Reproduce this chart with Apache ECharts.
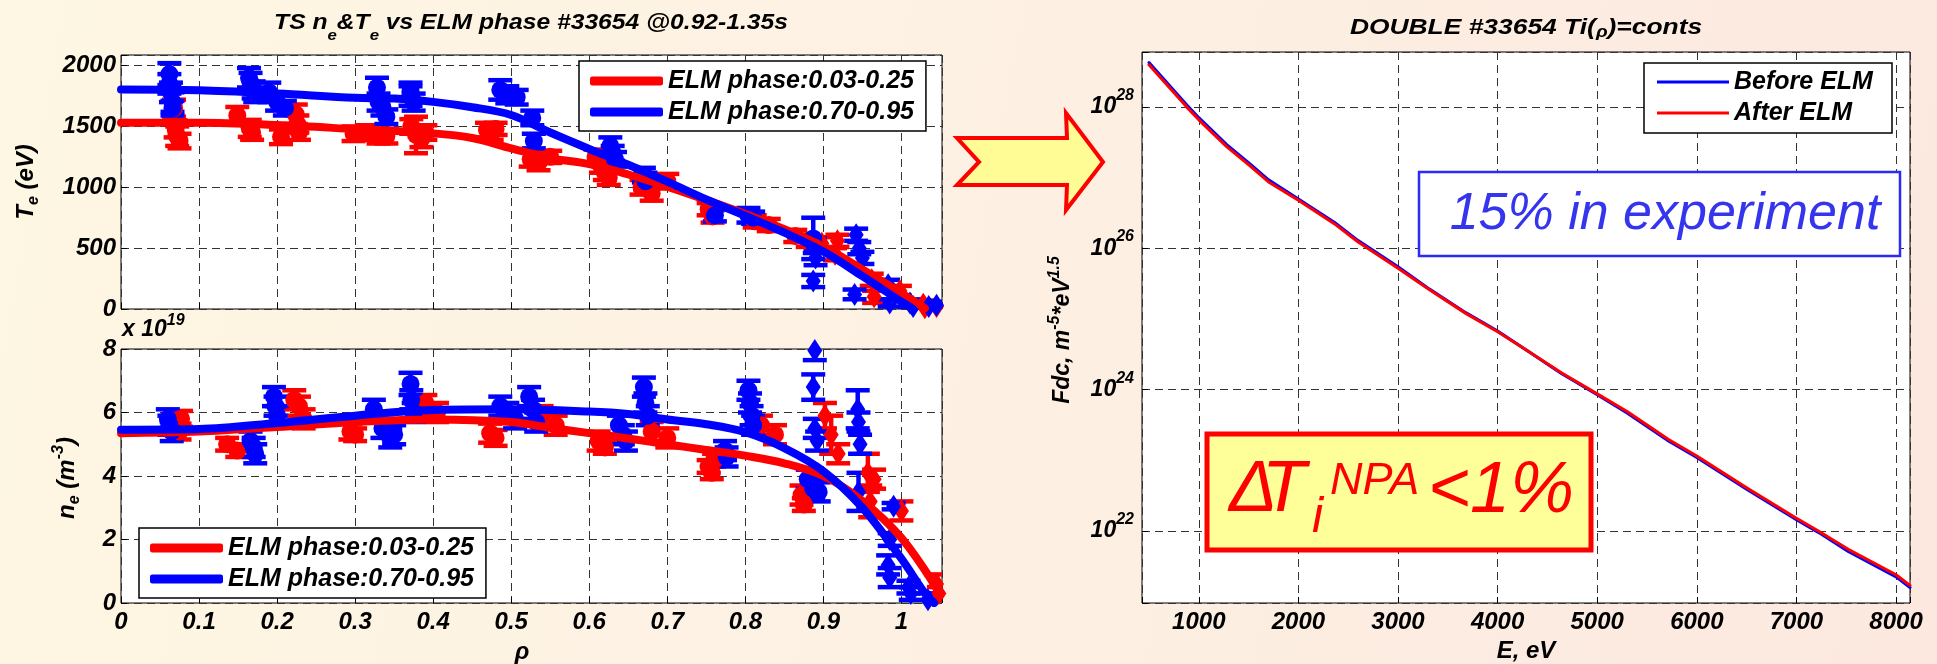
<!DOCTYPE html>
<html><head><meta charset="utf-8">
<script src="https://cdn.jsdelivr.net/npm/echarts@6/dist/echarts.min.js"></script>
<style>
html,body{margin:0;padding:0;}
#c{width:1937px;height:664px;background:linear-gradient(100deg,#FEF7E3 0%,#FDF1E3 45%,#FCE8DF 100%);}
</style></head><body><div id="c"></div>
<script>
// ---------------- DATA ----------------
// Te (eV) vs rho : [rho, Te, error]
const teRedCore = [[0.068,1650,70],[0.070,1480,70],[0.072,1420,80],[0.075,1380,60],[0.149,1590,70],[0.165,1484,70],[0.168,1450,60],[0.205,1415,60],[0.224,1600,80],[0.226,1520,70],[0.228,1450,60],[0.298,1440,60],[0.315,1450,60],[0.330,1420,60],[0.340,1420,60],[0.372,1500,60],[0.378,1430,150],[0.385,1400,70],[0.390,1450,60],[0.469,1470,60],[0.475,1450,60],[0.480,1480,50],[0.525,1230,60],[0.535,1200,60],[0.550,1250,50],[0.608,1250,60],[0.615,1180,60],[0.620,1120,60],[0.625,1080,60],[0.667,1000,60],[0.680,950,60],[0.700,1050,60],[0.753,820,50],[0.758,760,50],[0.812,720,50],[0.830,690,50],[0.864,600,50],[0.880,560,50]];
const teRedEdge = [[0.898,540,50],[0.915,450,50],[0.918,560,50],[0.962,240,50],[0.965,100,50],[0.998,150,40],[1.028,40,30],[1.030,10,30],[1.045,20,30]];
const teBlueCore = [[0.062,1930,90],[0.062,1850,80],[0.064,1780,80],[0.066,1700,80],[0.066,1650,60],[0.164,1900,80],[0.166,1860,80],[0.170,1800,70],[0.172,1760,60],[0.190,1780,80],[0.200,1700,70],[0.210,1650,60],[0.328,1820,80],[0.330,1700,70],[0.335,1660,70],[0.340,1580,60],[0.371,1790,70],[0.371,1750,80],[0.375,1700,70],[0.486,1800,80],[0.495,1760,70],[0.507,1740,60],[0.527,1570,60],[0.529,1380,60],[0.627,1340,70],[0.630,1280,60],[0.633,1230,60],[0.670,1100,60],[0.672,1050,70],[0.761,770,50],[0.804,770,60],[0.810,750,50],[0.887,580,170],[0.889,520,60]];
const teBlueEdge = [[0.890,420,60],[0.887,230,50],[0.942,610,50],[0.946,500,50],[0.950,420,50],[0.940,120,40],[0.983,200,40],[0.985,50,30],[1.011,49,30],[1.015,20,30],[1.035,20,30],[1.045,30,30]];
// Te fitted profiles
const teRedFitRho = [0,0.1,0.2,0.3,0.4,0.45,0.5,0.55,0.6,0.65,0.7,0.75,0.8,0.85,0.9,0.95,1.0,1.03];
const teRedFit    = [1530,1530,1511,1478,1443,1405,1320,1240,1190,1105,1005,895,780,655,513,326,131,5];
const teBlueFitRho = [0,0.1,0.2,0.3,0.35,0.4,0.45,0.5,0.55,0.6,0.65,0.7,0.75,0.8,0.85,0.9,0.95,1.0,1.015];
const teBlueFit    = [1803,1797,1770,1735,1729,1702,1658,1594,1450,1315,1185,1046,900,766,627,472,270,60,0];

// ne (1e19 m^-3) vs rho : [rho, ne, error]
const neRedCore = [[0.077,5.8,0.25],[0.075,5.4,0.25],[0.136,5.0,0.2],[0.149,4.8,0.2],[0.222,6.4,0.3],[0.228,6.2,0.3],[0.234,5.8,0.3],[0.294,5.4,0.25],[0.300,5.3,0.2],[0.380,6.2,0.3],[0.390,6.3,0.25],[0.405,6.0,0.3],[0.473,5.35,0.3],[0.480,5.2,0.25],[0.539,5.9,0.3],[0.557,5.6,0.3],[0.612,5.1,0.3],[0.620,4.9,0.2],[0.680,5.4,0.3],[0.700,5.2,0.3],[0.753,4.3,0.2],[0.757,4.1,0.2],[0.760,4.5,0.2],[0.820,5.6,0.3],[0.838,5.3,0.3],[0.872,3.4,0.3],[0.875,3.1,0.2]];
const neRedEdge = [[0.902,5.9,0.4],[0.910,5.3,0.6],[0.919,4.7,0.3],[0.957,4.1,0.6],[0.965,3.9,0.3],[0.960,3.2,0.5],[1.000,2.9,0.3],[1.045,0.6,0.3],[1.048,0.3,0.2]];
const neBlueCore = [[0.060,5.8,0.3],[0.062,5.6,0.3],[0.065,5.4,0.3],[0.166,5.1,0.3],[0.170,4.9,0.3],[0.172,4.7,0.3],[0.196,6.5,0.3],[0.198,6.2,0.3],[0.200,5.9,0.3],[0.324,6.1,0.3],[0.335,5.5,0.3],[0.345,5.2,0.3],[0.350,5.3,0.3],[0.371,6.9,0.35],[0.372,6.4,0.3],[0.375,6.0,0.3],[0.486,6.2,0.3],[0.495,6.0,0.3],[0.505,5.8,0.3],[0.523,6.5,0.3],[0.528,6.1,0.3],[0.532,5.7,0.3],[0.638,5.6,0.3],[0.643,5.3,0.3],[0.647,5.1,0.3],[0.670,6.8,0.3],[0.672,6.3,0.3],[0.675,5.9,0.3],[0.774,4.8,0.3],[0.776,4.6,0.3],[0.804,6.7,0.3],[0.806,6.3,0.3],[0.808,5.9,0.3],[0.810,5.6,0.3],[0.880,3.9,0.3],[0.887,3.6,0.3],[0.894,3.5,0.3]];
const neBlueEdge = [[0.889,7.95,0.3],[0.887,6.8,0.4],[0.889,5.5,0.3],[0.892,5.1,0.3],[0.944,6.1,0.6],[0.945,5.7,0.3],[0.947,5.0,0.3],[0.945,3.5,0.6],[0.990,3.05,0.1],[0.985,2.0,0.2],[0.983,1.2,0.3],[0.985,0.8,0.3],[1.009,0.5,0.2],[1.012,0.3,0.2],[1.034,0.1,0.2]];
// ne fitted profiles
const neRedFitRho = [0,0.1,0.2,0.3,0.4,0.5,0.55,0.6,0.65,0.7,0.75,0.8,0.85,0.9,0.95,1.0,1.05];
const neRedFit    = [5.35,5.40,5.54,5.70,5.78,5.70,5.52,5.35,5.18,5.0,4.82,4.64,4.40,4.0,3.22,2.05,0.27];
const neBlueFitRho = [0,0.1,0.2,0.3,0.4,0.5,0.6,0.65,0.7,0.75,0.8,0.85,0.9,0.95,1.0,1.03,1.042];
const neBlueFit    = [5.46,5.48,5.67,5.9,6.08,6.1,6.03,5.95,5.78,5.63,5.38,4.88,4.15,3.0,1.4,0.31,0];

// NPA distribution: energy (eV) and log10(Fdc)
const energyEv = [500,880,1000,1280,1520,1700,2000,2360,2600,3000,3320,3680,4000,4280,4640,5000,5300,5720,6000,6500,7000,7220,7520,8000,8140];
const fdcLogBefore = [28.63,28.03,27.85,27.47,27.19,26.97,26.70,26.37,26.11,25.74,25.42,25.09,24.83,24.57,24.23,23.93,23.67,23.27,23.04,22.59,22.16,21.98,21.71,21.35,21.20];
const fdcLogAfter  = [28.60,28.00,27.82,27.44,27.16,26.94,26.68,26.35,26.09,25.72,25.41,25.08,24.82,24.57,24.24,23.94,23.69,23.29,23.06,22.61,22.18,22.00,21.74,21.38,21.23];

const phaseNames = ['ELM phase:0.03-0.25', 'ELM phase:0.70-0.95'];
const npaNames = ['Before ELM', 'After ELM'];
const rhoTicks = [0,0.1,0.2,0.3,0.4,0.5,0.6,0.7,0.8,0.9,1];

// ---------------- STYLE / BUILD ----------------
const FONT = '"Liberation Sans", Arial, Helvetica, sans-serif';
const RED = '#FF0000', BLUE = '#0000FF';
const lbl = {fontSize:24, fontWeight:'bold', fontStyle:'italic', color:'#000', fontFamily:FONT};
const gridLine = {show:true, lineStyle:{color:'#333', type:[8,5], width:1}};
const tick = {show:true, inside:true, length:6, lineStyle:{color:'#000', width:1}};

function xy(arr){ return arr.map(p => [p[0], p[1]]); }
function pair(xs, ys){ return xs.map((x,i) => [x, ys[i]]); }
function errSeries(arr, color, gi){
  return {type:'custom', xAxisIndex:gi, yAxisIndex:gi, data:arr, clip:true, silent:true,
    encode:{x:0, y:1},
    renderItem:function(params, api){
      const x = api.value(0), y = api.value(1), e = api.value(2);
      const a = api.coord([x, y+e]), b = api.coord([x, y-e]);
      const hw = 12;
      const st = () => ({stroke:color, lineWidth:4.5});
      return {type:'group', children:[
        {type:'line', shape:{x1:a[0],y1:a[1],x2:b[0],y2:b[1]}, style:st()},
        {type:'line', shape:{x1:a[0]-hw,y1:a[1],x2:a[0]+hw,y2:a[1]}, style:st()},
        {type:'line', shape:{x1:b[0]-hw,y1:b[1],x2:b[0]+hw,y2:b[1]}, style:st()}
      ]};
    }};
}
function scat(arr, color, gi, symbol, size){
  return {type:'scatter', xAxisIndex:gi, yAxisIndex:gi, data:xy(arr), symbol:symbol, symbolSize:size,
    itemStyle:{color:color, opacity:1}, silent:true, clip:true};
}
function fit(xs, ys, color, gi, name, width, smooth){
  return {type:'line', name:name, xAxisIndex:gi, yAxisIndex:gi, data:pair(xs, ys), showSymbol:false,
    smooth:smooth, color:color, lineStyle:{color:color, width:width, cap:'round', join:'round'}, itemStyle:{color:color}, silent:true};
}
function isMult(v, step){ return Math.abs(v/step - Math.round(v/step)) < 1e-6; }
function rhoAxis(gi, showLabel){
  return {type:'value', gridIndex:gi, min:0, max:1.052, interval:0.1, axisLine:{show:false}, axisTick:tick, splitLine:gridLine,
    axisLabel: showLabel ? Object.assign({}, lbl, {margin:7, formatter:v => rhoTicks.some(t => Math.abs(t-v)<1e-6) ? String(+v.toFixed(1)) : ''}) : {show:false}};
}
function legendBox(names, left, top, iw, ih, icon, tw, pad){
  return {data:names, orient:'vertical', left:left, top:top, padding:pad, itemGap:5, itemWidth:iw, itemHeight:ih, icon:icon,
    borderColor:'#000', borderWidth:1.5, backgroundColor:'#fff', selectedMode:false,
    textStyle:Object.assign({}, lbl, {fontSize:25, lineHeight:26, width:tw})};
}
const sub = (fs, down) => ({fontSize:fs, fontWeight:'bold', fontStyle:'italic', fontFamily:FONT, padding:[down,0,0,0]});
const sup = (fs, up) => ({fontSize:fs, fontWeight:'bold', fontStyle:'italic', fontFamily:FONT, padding:[0,0,up,0]});

const option = {
  animation:false,
  textStyle:{fontFamily:FONT},
  grid:[
    {left:121, top:55, width:821, height:254, show:true, backgroundColor:'#fff', borderColor:'#000', borderWidth:1},
    {left:121, top:349, width:821, height:254, show:true, backgroundColor:'#fff', borderColor:'#000', borderWidth:1},
    {left:1142, top:52, width:768, height:551, show:true, backgroundColor:'#fff', borderColor:'#000', borderWidth:1}
  ],
  xAxis:[
    rhoAxis(0, false),
    rhoAxis(1, true),
    {type:'value', gridIndex:2, min:430, max:8140, splitNumber:8, minInterval:1000, maxInterval:1000, axisLine:{show:false}, axisTick:tick, splitLine:gridLine,
      axisLabel:Object.assign({}, lbl, {margin:7, formatter:v => isMult(v,1000) ? String(v) : ''})}
  ],
  yAxis:[
    {type:'value', gridIndex:0, min:0, max:2087, interval:500, axisLine:{show:false}, axisTick:tick, splitLine:gridLine,
      axisLabel:Object.assign({}, lbl, {margin:5, formatter:v => isMult(v,500) ? String(v) : ''})},
    {type:'value', gridIndex:1, min:0, max:8, interval:2, axisLine:{show:false}, axisTick:tick, splitLine:gridLine,
      axisLabel:Object.assign({}, lbl, {margin:5, formatter:v => isMult(v,2) ? String(v) : ''})},
    {type:'value', gridIndex:2, min:20.98, max:28.78, splitNumber:4, minInterval:2, maxInterval:2, axisLine:{show:false}, axisTick:tick, splitLine:gridLine,
      axisLabel:Object.assign({}, lbl, {margin:8, padding:[0,0,8,0],
        formatter:v => (isMult(v,2) ? '{b|10}{s|' + Math.round(v) + '}' : ''),
        rich:{b:Object.assign({}, lbl, {fontSize:23, verticalAlign:'bottom', lineHeight:31}), s:Object.assign({}, lbl, {fontSize:16, verticalAlign:'top'})}})}
  ],
  legend:[
    legendBox(phaseNames, 579, 61, 73, 9, 'roundRect', 244, [7,12,6,11]),
    legendBox(phaseNames, 139, 528, 73, 9, 'roundRect', 244, [7,12,6,11]),
    legendBox(npaNames, 1644, 63, 72, 3, 'rect', 146, [6,12,7,13])
  ],
  series:[
    errSeries(teRedCore, RED, 0), errSeries(teRedEdge, RED, 0),
    scat(teRedCore, RED, 0, 'circle', 18), scat(teRedEdge, RED, 0, 'diamond', [15,23]),
    errSeries(teBlueCore, BLUE, 0), errSeries(teBlueEdge, BLUE, 0),
    scat(teBlueCore, BLUE, 0, 'circle', 18), scat(teBlueEdge, BLUE, 0, 'diamond', [15,23]),
    fit(teRedFitRho, teRedFit, RED, 0, phaseNames[0], 8, 0.35),
    fit(teBlueFitRho, teBlueFit, BLUE, 0, phaseNames[1], 8, 0.35),

    errSeries(neRedCore, RED, 1), errSeries(neRedEdge, RED, 1),
    scat(neRedCore, RED, 1, 'circle', 18), scat(neRedEdge, RED, 1, 'diamond', [15,23]),
    errSeries(neBlueCore, BLUE, 1), errSeries(neBlueEdge, BLUE, 1),
    scat(neBlueCore, BLUE, 1, 'circle', 18), scat(neBlueEdge, BLUE, 1, 'diamond', [15,23]),
    fit(neRedFitRho, neRedFit, RED, 1, phaseNames[0], 8, 0.35),
    fit(neBlueFitRho, neBlueFit, BLUE, 1, phaseNames[1], 8, 0.35),

    fit(energyEv, fdcLogBefore, BLUE, 2, npaNames[0], 3, 0),
    fit(energyEv, fdcLogAfter, RED, 2, npaNames[1], 3, 0)
  ],
  graphic:[
    // titles
    {type:'text', x:531, y:23, scaleX:1.12, style:{text:'TS n{s|e}&T{s|e} vs ELM phase #33654 @0.92-1.35s', align:'center', verticalAlign:'middle',
      font:'italic bold 22px ' + FONT, fill:'#000', rich:{s:sub(15, 26)}}},
    {type:'text', x:1526, y:28, scaleX:1.2, style:{text:'DOUBLE #33654 Ti({s|ρ})=conts', align:'center', verticalAlign:'middle',
      font:'italic bold 22px ' + FONT, fill:'#000', rich:{s:sub(16, 10)}}},
    // axis names
    {type:'text', x:26, y:182, rotation:Math.PI/2, style:{text:'T{s|e} (eV)', align:'center', verticalAlign:'middle',
      font:'italic bold 24px ' + FONT, fill:'#000', rich:{s:sub(16, 16)}}},
    {type:'text', x:67, y:478, rotation:Math.PI/2, style:{text:'n{s|e} (m{p|-3})', align:'center', verticalAlign:'middle',
      font:'italic bold 24px ' + FONT, fill:'#000', rich:{s:sub(16, 16), p:sup(16, 16)}}},
    {type:'text', x:1063, y:330, rotation:Math.PI/2, style:{text:'Fdc, m{p|-5}*eV{p|1.5}', align:'center', verticalAlign:'middle',
      font:'italic bold 23px ' + FONT, fill:'#000', rich:{p:sup(16, 16)}}},
    {type:'text', x:122, y:330, style:{text:'x 10{p|19}', align:'left', verticalAlign:'middle',
      font:'italic bold 23px ' + FONT, fill:'#000', rich:{p:sup(16, 18)}}},
    {type:'text', x:522, y:652, style:{text:'ρ', align:'center', verticalAlign:'middle', font:'italic bold 24px ' + FONT, fill:'#000'}},
    {type:'text', x:1526, y:651, style:{text:'E, eV', align:'center', verticalAlign:'middle', font:'italic bold 24px ' + FONT, fill:'#000'}},
    // arrow
    {type:'polygon', shape:{points:[[957,138],[1067,138],[1066,113],[1103,162],[1066,210],[1067,185],[957,185],[979,162]]},
      style:{fill:'#FFFC96', stroke:'#FF0000', lineWidth:4, lineJoin:'miter'}},
    // 15% box
    {type:'rect', shape:{x:1419, y:172, width:481, height:84}, style:{fill:'#fff', stroke:'#2B2BF5', lineWidth:2.5}, z:100},
    {type:'text', x:1665, y:215, z:101, style:{text:'15% in experiment', align:'center', verticalAlign:'middle', font:'italic 52px ' + FONT, fill:'#3535EE'}},
    // Delta T box
    {type:'rect', shape:{x:1207, y:434, width:384, height:116}, style:{fill:'#FFFF99', stroke:'#FF0000', lineWidth:5}, z:100},
    {type:'text', x:1229, y:491, z:101, style:{text:'Δ', align:'left', verticalAlign:'middle', font:'italic 72px ' + FONT, fill:'#FF0000'}},
    {type:'text', x:1262, y:491, z:101, style:{text:'T', align:'left', verticalAlign:'middle', font:'italic 72px ' + FONT, fill:'#FF0000'}},
    {type:'text', x:1312, y:518, z:101, style:{text:'i', align:'left', verticalAlign:'middle', font:'italic 50px ' + FONT, fill:'#FF0000'}},
    {type:'text', x:1330, y:481, z:101, style:{text:'NPA', align:'left', verticalAlign:'middle', font:'italic 45px ' + FONT, fill:'#FF0000'}},
    {type:'text', x:1428, y:492, z:101, style:{text:'<1%', align:'left', verticalAlign:'middle', font:'italic 72px ' + FONT, fill:'#FF0000'}}
  ]
};
const chart = echarts.init(document.getElementById('c'), null, {renderer:'canvas'});
chart.setOption(option);
</script></body></html>
